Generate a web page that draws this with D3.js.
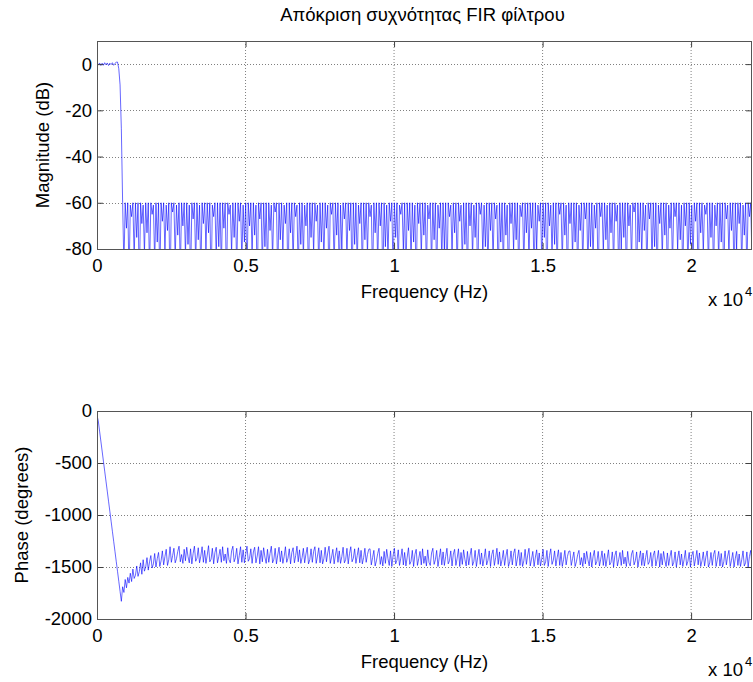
<!DOCTYPE html>
<html>
<head>
<meta charset="utf-8">
<script src="https://cdn.jsdelivr.net/npm/d3@7"></script>
<style>
body { margin: 0; background: #fff; }
text { font-family: "Liberation Sans", Arial, sans-serif; fill: #000; }
</style>
</head>
<body>
<div id="chart"></div>
<script>
// freqz style: 512 points from 0 to fs/2
const fs = 44100
const nPoints = 512
const titleText = "Απόκριση συχνότητας FIR φίλτρου"
const freqTicks = [0, 5000, 10000, 15000, 20000]
const freqTickLabels = ["0", "0.5", "1", "1.5", "2"]
const magTicks = [-80, -60, -40, -20, 0]
const phaseTicks = [-2000, -1500, -1000, -500, 0]

// magnitude (dB): passband + transition, then stopband ripple
const magPass = [0.3,-0.4,0.5,-0.6,0.4,-0.5,0.6,-0.3,0.5,-0.6,0.4,-0.2,0.6,-0.5,0.3,0.8,0.9,-2,-9,-28]
const magStop = [
-60,-88,-60,-71,-60,-93,-61,-66,-60,-84,-60,-75,-60,-97,-60,-69,-61,-82,-60,-73,
-60,-90,-60,-65,-61,-86,-60,-77,-60,-94,-60,-68,-60,-81,-61,-72,-60,-99,-60,-64,
-60,-85,-61,-74,-60,-91,-60,-70,-60,-83,-60,-78,-61,-95,-60,-67,-60,-87,-60,-76,
-61,-92,-60,-69,-60,-80,-60,-73,-60,-98,-61,-66,-60,-84,-60,-79,-60,-89,-60,-71,
-60,-96,-60,-65,-61,-82,-60,-75,-60,-90,-60,-68,-60,-86,-61,-77,-60,-93,-60,-70,
-60,-83,-60,-74,-61,-97,-60,-67,-60,-88,-60,-79,-60,-91,-60,-72,-61,-85,-60,-64,
-60,-94,-60,-76,-60,-81,-61,-69,-60,-99,-60,-73,-60,-87,-60,-66,-61,-92,-60,-78,
-60,-84,-61,-70,-60,-95,-60,-75,-60,-82,-60,-68,-61,-90,-60,-77,-60,-86,-60,-71,
-61,-98,-60,-65,-60,-89,-60,-74,-60,-93,-61,-80,-60,-67,-60,-85,-60,-72,-60,-96,
-60,-78,-60,-88,-61,-69,-60,-91,-60,-76,-60,-83,-60,-66,-61,-94,-60,-73,-60,-87,
-60,-70,-60,-97,-60,-79,-61,-84,-60,-68,-60,-92,-60,-75,-60,-89,-61,-65,-60,-81,
-60,-95,-60,-72,-60,-86,-60,-77,-61,-99,-60,-69,-60,-83,-60,-74,-60,-90,-61,-67,
-60,-88,-60,-76,-60,-93,-61,-71,-60,-85,-60,-80,-60,-96,-60,-66,-61,-82,-60,-73,
-60,-91,-60,-68,-61,-87,-60,-78,-60,-94,-60,-70,-60,-84,-61,-75,-60,-98,-60,-65,
-60,-83,-61,-79,-60,-90,-60,-72,-60,-86,-60,-67,-61,-95,-60,-77,-60,-89,-60,-74,
-61,-97,-60,-69,-60,-81,-60,-76,-60,-92,-61,-66,-60,-88,-60,-73,-60,-85,-60,-71,
-60,-94,-60,-80,-61,-68,-60,-87,-60,-75,-60,-99,-60,-70,-61,-83,-60,-78,-60,-91,
-60,-65,-60,-86,-60,-74,-61,-96,-60,-69,-60,-84,-60,-77,-60,-93,-61,-72,-60,-88,
-60,-67,-60,-90,-60,-79,-60,-85,-61,-71,-60,-97,-60,-66,-60,-82,-60,-76,-61,-94,
-60,-73,-60,-89,-60,-68,-61,-92,-60,-80,-60,-75,-60,-95,-60,-70,-61,-86,-60,-64,
-60,-98,-60,-77,-60,-83,-60,-72,-61,-91,-60,-67,-60,-87,-60,-79,-60,-94,-61,-69,
-60,-84,-60,-74,-60,-96,-61,-71,-60,-88,-60,-66,-60,-81,-60,-76,-61,-93,-60,-70,
-60,-90,-60,-78,-61,-85,-60,-68,-60,-97,-60,-73,-60,-82,-61,-65,-60,-89,-60,-75,
-60,-92,-61,-70,-60,-86,-60,-77,-60,-99,-60,-67,-61,-84,-60,-72,-60,-95,-60,-80,
-60,-69,-60,-88,-61,-74,-60,-91,-60,-66,-60,-85]

// phase (degrees)
const phaseLinear = [-40,-96,-193,-289,-385,-482,-578,-674,-770,-867,-963,-1059,-1156,-1252,-1348,-1445,-1541,-1637,-1734,-1830]
const phaseTransition = [-1690,-1745,-1620,-1700,-1600,-1655,-1560,-1640,-1520,-1610,-1580,-1490,-1590,-1545,-1460,-1570,-1430,-1540,-1500,-1410,-1530,-1450,-1390,-1510,-1470,-1370,-1500,-1420,-1360,-1495,-1440,-1345,-1480,-1400,-1330,-1485,-1430]
const phaseBandA = [
-1305,-1455,-1390,-1320,-1460,-1420,-1350,-1300,-1450,-1380,-1465,-1330,
-1440,-1310,-1400,-1460,-1325,-1470,-1370,-1300,-1445,-1415,-1315,-1460,
-1395,-1305,-1455,-1340,-1465,-1385,-1295,-1450,-1425,-1320,-1470,-1360,
-1310,-1460,-1400,-1330,-1455,-1305,-1440,-1375,-1465,-1315,-1430,-1460,
-1345,-1300,-1450,-1410,-1320,-1470,-1390,-1305,-1455,-1335,-1460,-1380,
-1300,-1445,-1420,-1325,-1465,-1355,-1310,-1460,-1395,-1305,-1470,-1340,
-1450,-1315,-1405,-1465,-1330,-1455,-1370,-1300,-1460,-1425,-1320,-1470,
-1385,-1310,-1450,-1345,-1465,-1400,-1305,-1455,-1415,-1325,-1470,-1360,
-1315,-1460,-1390,-1300,-1450,-1335,-1465,-1410,-1320,-1460,-1375,-1310,
-1470,-1430,-1325,-1455,-1350,-1305,-1465,-1395,-1315,-1460,-1340,-1470,
-1420,-1310,-1450,-1365,-1300,-1465,-1405,-1330,-1470,-1385,-1315,-1455,
-1345,-1465,-1400,-1310,-1460,-1430,-1320,-1470,-1370,-1305,-1450,-1415,
-1325,-1465,-1390,-1315,-1460,-1340,-1470,-1410,-1320,-1455,-1380,-1330]
const phaseBandB = [
-1325,-1480,-1410,-1340,-1490,-1440,-1370,-1320,-1475,-1400,-1490,-1350,
-1465,-1330,-1420,-1485,-1345,-1495,-1390,-1320,-1470,-1435,-1335,-1485,
-1415,-1325,-1480,-1360,-1490,-1405,-1315,-1475,-1445,-1340,-1495,-1380,
-1330,-1485,-1420,-1350,-1480,-1325,-1465,-1395,-1490,-1335,-1455,-1485,
-1365,-1320,-1475,-1430,-1340,-1495,-1410,-1325,-1480,-1355,-1485,-1400,
-1320,-1470,-1440,-1345,-1490,-1375,-1330,-1485,-1415,-1325,-1495,-1360,
-1475,-1335,-1425,-1490,-1350,-1480,-1390,-1320,-1485,-1445,-1340,-1495,
-1405,-1330,-1475,-1365,-1490,-1420,-1325,-1480,-1435,-1345,-1495,-1380,
-1335,-1485,-1410,-1320,-1475,-1355,-1490,-1430,-1340,-1485,-1395,-1330,
-1495,-1450,-1345,-1480,-1370,-1325,-1490,-1415,-1335,-1485,-1360,-1495,
-1440,-1330,-1475,-1385,-1320,-1490,-1425,-1350,-1495,-1405,-1335,-1480,
-1365,-1490,-1420,-1330,-1485,-1450,-1340,-1495,-1390,-1325,-1475,-1435,
-1345,-1490,-1410,-1335,-1485,-1360,-1495,-1430,-1340,-1480,-1400,-1350]
const phaseBandC = [
-1345,-1485,-1420,-1355,-1495,-1450,-1380,-1340,-1480,-1410,-1495,-1365,
-1470,-1350,-1430,-1490,-1360,-1500,-1400,-1340,-1480,-1445,-1350,-1490,
-1425,-1345,-1485,-1370,-1495,-1415,-1335,-1480,-1455,-1355,-1500,-1390,
-1345,-1490,-1430,-1360,-1485,-1340,-1470,-1405,-1495,-1350,-1460,-1490,
-1375,-1340,-1480,-1440,-1355,-1500,-1420,-1345,-1485,-1365,-1490,-1410,
-1340,-1475,-1450,-1360,-1495,-1385,-1345,-1490,-1425,-1340,-1500,-1370,
-1480,-1350,-1435,-1495,-1365,-1485,-1400,-1340,-1490,-1455,-1355,-1500,
-1415,-1345,-1480,-1375,-1495,-1430,-1340,-1485,-1445,-1360,-1500,-1390,
-1350,-1490,-1420,-1340,-1480,-1365,-1495,-1440,-1355,-1490,-1405,-1345,
-1500,-1460,-1360,-1485,-1380,-1340,-1495,-1425,-1350,-1490,-1370,-1500,
-1450,-1345,-1480,-1395,-1340,-1495,-1435,-1360,-1500,-1415,-1350,-1485,
-1375,-1495,-1430,-1345,-1490,-1460,-1355,-1500,-1400,-1340,-1480]

const magnitude = magPass.concat(magStop)
const phase = phaseLinear.concat(phaseTransition, phaseBandA, phaseBandB, phaseBandC)
const freq = d3.range(nPoints).map(i => i * (fs / 2) / (nPoints - 1))

const totalWidth = 753, totalHeight = 682
const margin = { left: 97, right: 1 }
const plotWidth = totalWidth - margin.left - margin.right
const plotHeight = 208
const tickFont = 18.5

const svg = d3.select("div#chart").append("svg").attr("width", totalWidth).attr("height", totalHeight)

svg.append("text")
    .attr("x", margin.left + plotWidth / 2 - 2).attr("y", 21)
    .attr("text-anchor", "middle").style("font-size", "18.5px")
    .text(titleText)

const x = d3.scaleLinear().domain([0, fs / 2]).range([0, plotWidth])

function drawPanel(id, top, yDomain, yTicks, values, yLabel, yLabelX) {
    const y = d3.scaleLinear().domain(yDomain).range([plotHeight, 0])
    const g = svg.append("g").attr("transform", `translate(${margin.left}, ${top})`)

    svg.append("clipPath").attr("id", id).append("rect")
        .attr("width", plotWidth).attr("height", plotHeight)

    // grid
    const grid = g.append("g").attr("class", "grid")
    grid.selectAll(".vgrid").data(freqTicks.slice(1)).join("line")
        .attr("x1", d => x(d)).attr("x2", d => x(d))
        .attr("y1", 0).attr("y2", plotHeight)
        .attr("stroke", "#808080").attr("stroke-dasharray", "1,2")
    grid.selectAll(".hgrid").data(yTicks.filter(d => d > yDomain[0])).join("line")
        .attr("x1", 0).attr("x2", plotWidth)
        .attr("y1", d => Math.round(y(d)) + 0.5).attr("y2", d => Math.round(y(d)) + 0.5)
        .attr("stroke", "#808080").attr("stroke-dasharray", "1,2")

    // the curve
    const line = d3.line().x((d, i) => x(freq[i])).y(d => y(d))
    g.append("path").datum(values)
        .attr("clip-path", `url(#${id})`)
        .attr("fill", "none").attr("stroke", "#0000ff").attr("stroke-width", 0.6)
        .attr("d", line)

    // axes with inward ticks
    const xAxis = d3.axisBottom(x).tickValues(freqTicks).tickFormat((d, i) => freqTickLabels[i])
        .tickSizeInner(-6).tickSizeOuter(0).tickPadding(10)
    const xTop = d3.axisTop(x).tickValues(freqTicks).tickFormat("").tickSizeInner(-6).tickSizeOuter(0)
    const yAxis = d3.axisLeft(y).tickValues(yTicks).tickFormat(d3.format("d"))
        .tickSizeInner(-6).tickSizeOuter(0).tickPadding(5)
    const yRight = d3.axisRight(y).tickValues(yTicks).tickFormat("").tickSizeInner(-6).tickSizeOuter(0)

    g.append("g").attr("transform", `translate(0, ${plotHeight})`).call(xAxis)
    g.append("g").call(xTop)
    const yg = g.append("g").call(yAxis)
    g.append("g").attr("transform", `translate(${plotWidth}, 0)`).call(yRight)
    g.selectAll(".domain").remove()
    g.selectAll(".tick line").attr("stroke", "#404040")
    g.selectAll(".tick text").style("font-size", tickFont + "px").attr("fill", "#000")
        .style("font-family", '"Liberation Sans", Arial, sans-serif')
    yg.selectAll(".tick text").text(d => d3.format("d")(d).replace("−", "-"))

    g.append("rect").attr("x", 0.5).attr("y", 0.5)
        .attr("width", plotWidth - 1).attr("height", plotHeight)
        .attr("fill", "none").attr("stroke", "#555")

    g.append("text")
        .attr("x", plotWidth / 2).attr("y", plotHeight + 49)
        .attr("text-anchor", "middle").style("font-size", tickFont + "px")
        .text("Frequency (Hz)")

    g.append("text")
        .attr("x", plotWidth - 9).attr("y", plotHeight + 57)
        .attr("text-anchor", "end").style("font-size", tickFont + "px")
        .text("x 10")
    g.append("text")
        .attr("x", plotWidth - 7).attr("y", plotHeight + 47)
        .style("font-size", "13px")
        .text("4")

    svg.append("text")
        .attr("transform", `translate(${yLabelX}, ${top + plotHeight / 2}) rotate(-90)`)
        .attr("text-anchor", "middle").attr("dy", "0.35em")
        .style("font-size", tickFont + "px")
        .text(yLabel)
}

drawPanel("clipMag", 41, [-80, 10], magTicks, magnitude, "Magnitude (dB)", 43)
drawPanel("clipPhase", 411, [-2000, 0], phaseTicks, phase, "Phase (degrees)", 22)
</script>
</body>
</html>
